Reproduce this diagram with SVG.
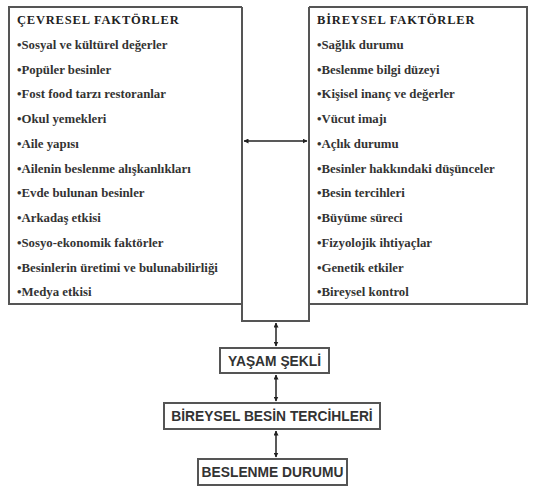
<svg xmlns="http://www.w3.org/2000/svg" width="535" height="487" viewBox="0 0 535 487">
<defs>
<marker id="ah" viewBox="0 0 10 10" refX="9" refY="5" markerWidth="5" markerHeight="5" orient="auto-start-reverse" markerUnits="userSpaceOnUse">
<path d="M0,0 L10,5 L0,10 z" fill="#222"/>
</marker>
<style>
.box{fill:#fff;stroke:#555;stroke-width:2}
.ln{fill:none;stroke:#555;stroke-width:2}
.hd{font-family:"Liberation Serif",serif;font-weight:bold;font-size:12.5px;letter-spacing:0.8px;fill:#222}
.it{font-family:"Liberation Serif",serif;font-weight:bold;font-size:12.8px;fill:#333}
.bt{font-family:"Liberation Sans",sans-serif;font-weight:bold;font-size:13.8px;fill:#333;text-anchor:middle}
.cn{fill:none;stroke:#222;stroke-width:1.5;marker-start:url(#ah);marker-end:url(#ah)}
</style>
</defs>
<rect width="535" height="487" fill="#fff"/>
<g id="center-frame">
<path class="ln" d="M242,7 V321 H309 V7"/>
</g>
<g id="cevresel">
<path class="ln" d="M242,7 H9 V304 H242"/>
<text class="hd" x="17" y="24">ÇEVRESEL FAKTÖRLER</text>
<text class="it" x="17" y="49">•Sosyal ve kültürel değerler</text>
<text class="it" x="17" y="74">•Popüler besinler</text>
<text class="it" x="17" y="98">•Fost food tarzı restoranlar</text>
<text class="it" x="17" y="123">•Okul yemekleri</text>
<text class="it" x="17" y="148">•Aile yapısı</text>
<text class="it" x="17" y="173">•Ailenin beslenme alışkanlıkları</text>
<text class="it" x="17" y="197">•Evde bulunan besinler</text>
<text class="it" x="17" y="222">•Arkadaş etkisi</text>
<text class="it" x="17" y="247">•Sosyo-ekonomik faktörler</text>
<text class="it" x="17" y="272">•Besinlerin üretimi ve bulunabilirliği</text>
<text class="it" x="17" y="296">•Medya etkisi</text>
</g>
<g id="bireysel">
<path class="ln" d="M309,7 H527 V304 H309"/>
<text class="hd" x="317" y="24">BİREYSEL FAKTÖRLER</text>
<text class="it" x="317" y="49">•Sağlık durumu</text>
<text class="it" x="317" y="74">•Beslenme bilgi düzeyi</text>
<text class="it" x="317" y="98">•Kişisel inanç ve değerler</text>
<text class="it" x="317" y="123">•Vücut imajı</text>
<text class="it" x="317" y="148">•Açlık durumu</text>
<text class="it" x="317" y="173">•Besinler hakkındaki  düşünceler</text>
<text class="it" x="317" y="197">•Besin tercihleri</text>
<text class="it" x="317" y="222">•Büyüme süreci</text>
<text class="it" x="317" y="247">•Fizyolojik ihtiyaçlar</text>
<text class="it" x="317" y="272">•Genetik etkiler</text>
<text class="it" x="317" y="296">•Bireysel kontrol</text>
</g>
<g id="yasam">
<rect class="box" x="220" y="348" width="109" height="25"/>
<text class="bt" x="274.5" y="365.5">YAŞAM ŞEKLİ</text>
</g>
<g id="tercihler">
<rect class="box" x="164" y="403" width="216" height="26"/>
<text class="bt" x="272" y="421">BİREYSEL BESİN TERCİHLERİ</text>
</g>
<g id="durum">
<rect class="box" x="198" y="459" width="149" height="26"/>
<text class="bt" x="272.5" y="477">BESLENME DURUMU</text>
</g>
<g id="connectors">
<line class="cn" x1="244" y1="141" x2="307" y2="141"/>
<line class="cn" x1="276" y1="323" x2="276" y2="346"/>
<line class="cn" x1="276" y1="375" x2="276" y2="401"/>
<line class="cn" x1="276" y1="431" x2="276" y2="457"/>
</g>
</svg>
